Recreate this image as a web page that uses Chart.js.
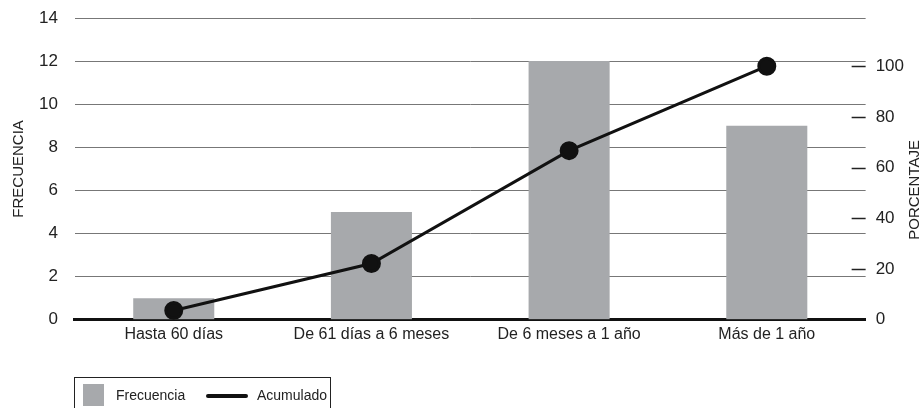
<!DOCTYPE html>
<html>
<head>
<meta charset="utf-8">
<script src="https://cdn.jsdelivr.net/npm/chart.js@4"></script>
<style>
  body { margin: 0; background: #fff; }
  #wrap { position: relative; width: 924px; height: 408px; }
  #legend {
    position: absolute; left: 74px; top: 377px; width: 257px; height: 40px;
    border: 1px solid #222; box-sizing: border-box;
    font-family: 'Liberation Sans Narrow', 'Arial Narrow', 'Liberation Sans', sans-serif; font-size: 14px; color: #222;
  }
  #legend .box { position: absolute; left: 8px; top: 6px; width: 21px; height: 22px; background: #a7a9ac; }
  #legend .line { position: absolute; top: 16px; width: 42px; height: 4px; border-radius: 2px; background: #111; }
  #legend span { position: absolute; top: 9px; }
</style>
</head>
<body>
<div id="wrap">
  <canvas id="chart" width="924" height="408"></canvas>
  <div id="legend">
    <div class="box"></div><span style="left:41px">Frecuencia</span>
    <div class="line" style="left:131px"></div><span style="left:182px">Acumulado</span>
  </div>
</div>
<script>
document.addEventListener('DOMContentLoaded', function () {
    // datos
    const categories = ['Hasta 60 días', 'De 61 días a 6 meses', 'De 6 meses a 1 año', 'Más de 1 año'];
    const frecuencia = [1, 5, 12, 9];
    const acumulado = [3.7, 22.2, 66.7, 100];
    const leftTicks = [0, 2, 4, 6, 8, 10, 12, 14];
    const rightTicks = [0, 20, 40, 60, 80, 100];

    const fontFamily = "'Liberation Sans Narrow', 'Arial Narrow', 'Liberation Sans', sans-serif";
    const textColor = '#222';

    // marcas cortas del eje derecho + título derecho (leído de abajo hacia arriba)
    const rightAxisExtras = {
        id: 'rightAxisExtras',
        afterDraw(chart) {
            const ctx = chart.ctx;
            const y1 = chart.scales.y1;
            const right = chart.chartArea.right;
            ctx.save();
            ctx.strokeStyle = '#222';
            ctx.lineWidth = 1.5;
            rightTicks.forEach(v => {
                if (v === 0) return;
                const y = Math.round(y1.getPixelForValue(v)) + 0.5;
                ctx.beginPath();
                ctx.moveTo(right - 14, y);
                ctx.lineTo(right, y);
                ctx.stroke();
            });
            ctx.translate(915, (chart.chartArea.top + chart.chartArea.bottom) / 2 + 21);
            ctx.rotate(-Math.PI / 2);
            ctx.fillStyle = textColor;
            ctx.font = '15px ' + fontFamily;
            ctx.textAlign = 'center';
            ctx.textBaseline = 'middle';
            ctx.fillText('PORCENTAJE', 0, 0);
            ctx.restore();
        }
    };

    const ctx = document.getElementById('chart').getContext('2d');
    new Chart(ctx, {
        data: {
            labels: categories,
            datasets: [{
                type: 'line',
                label: 'Acumulado',
                data: acumulado,
                yAxisID: 'y1',
                borderColor: '#111',
                borderWidth: 3,
                pointRadius: 8,
                pointBackgroundColor: '#111',
                pointBorderColor: '#111',
                tension: 0,
                order: 0
            }, {
                type: 'bar',
                label: 'Frecuencia',
                data: frecuencia,
                yAxisID: 'y',
                backgroundColor: '#a7a9ac',
                barPercentage: 0.41,
                categoryPercentage: 1,
                order: 1
            }]
        },
        options: {
            responsive: false,
            animation: false,
            layout: { autoPadding: false, padding: { top: 18, bottom: 59, left: 10, right: 20 } },
            plugins: {
                legend: { display: false },
                tooltip: { enabled: false }
            },
            scales: {
                x: {
                    grid: { display: false, drawTicks: false },
                    border: { color: '#111', width: 3 },
                    ticks: { color: textColor, font: { family: fontFamily, size: 16 }, padding: 5 }
                },
                y: {
                    position: 'left',
                    min: 0, max: 14,
                    afterBuildTicks: s => { s.ticks = leftTicks.map(v => ({ value: v })); },
                    grid: { color: '#777', lineWidth: 1, drawTicks: true, tickLength: 17, tickColor: 'rgba(0,0,0,0)' },
                    border: { display: false },
                    ticks: { color: textColor, font: { family: fontFamily, size: 17 }, padding: 0 },
                    title: { display: true, text: 'FRECUENCIA', color: textColor, font: { family: fontFamily, size: 15 }, padding: { top: 0, bottom: 11 } }
                },
                y1: {
                    position: 'right',
                    min: 0, max: 119,
                    afterBuildTicks: s => { s.ticks = rightTicks.map(v => ({ value: v })); },
                    grid: { display: true, drawOnChartArea: false, drawTicks: true, tickLength: 10, tickColor: 'rgba(0,0,0,0)' },
                    border: { display: false },
                    ticks: { color: textColor, font: { family: fontFamily, size: 17 }, padding: 0 }
                }
            }
        },
        plugins: [rightAxisExtras]
    });
});
</script>
</body>
</html>
